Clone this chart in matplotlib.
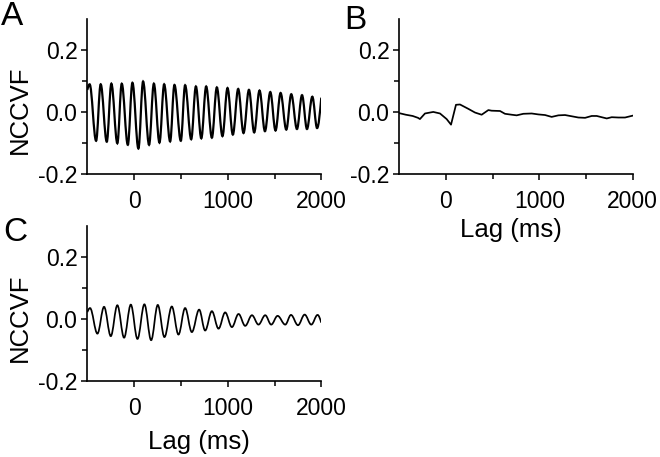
import matplotlib
matplotlib.use("Agg")
import matplotlib.pyplot as plt
from matplotlib.path import Path
from matplotlib.patches import PathPatch
from matplotlib.ticker import FixedLocator, FormatStrFormatter

plt.rcParams['font.family'] = ['Liberation Sans', 'DejaVu Sans']
plt.rcParams['axes.unicode_minus'] = False

# ---------------- data ----------------
# Panel A: oscillating NCCVF, extrema (lag in ms, value)
a_start = (-500, 0.070)
a_peak_t = [-475, -357, -243, -132, -18, 96, 211, 321, 431, 545, 660,
            770, 884, 998, 1112, 1227, 1340, 1455, 1565, 1679, 1794, 1904]
a_peak_v = [0.088, 0.088, 0.090, 0.090, 0.093, 0.097, 0.090, 0.088, 0.086, 0.085, 0.081,
            0.081, 0.078, 0.076, 0.073, 0.070, 0.068, 0.063, 0.060, 0.056, 0.053, 0.048]
a_trough_t = [-406, -292, -179, -67, 46, 160, 271, 385, 499, 610, 718,
              831, 944, 1055, 1169, 1283, 1398, 1511, 1626, 1740, 1847, 1955]
a_trough_v = [-0.094, -0.097, -0.102, -0.107, -0.119, -0.107, -0.100, -0.096, -0.094, -0.089, -0.086,
              -0.084, -0.079, -0.074, -0.069, -0.067, -0.063, -0.061, -0.058, -0.056, -0.056, -0.053]
a_end = (2000, 0.045)

# Panel B: flat NCCVF (lag in ms, value)
b_lag = [-500, -430, -357, -300, -279, -225, -136, -64, 7, 54, 107, 150, 239, 311,
         382, 454, 489, 579, 632, 704, 757, 829, 918, 989, 1061, 1132, 1204, 1275,
         1347, 1418, 1490, 1561, 1615, 1668, 1722, 1775, 1847, 1918, 2000]
b_val = [-0.005, -0.010, -0.014, -0.020, -0.024, -0.006, -0.001, -0.006, -0.024, -0.042,
         0.022, 0.023, 0.009, -0.003, -0.010, 0.005, 0.003, 0.002, -0.007, -0.010,
         -0.012, -0.007, -0.006, -0.009, -0.011, -0.017, -0.012, -0.011, -0.015,
         -0.019, -0.020, -0.014, -0.014, -0.018, -0.022, -0.018, -0.019, -0.019, -0.013]

# Panel C: oscillating NCCVF, extrema (lag in ms, value)
c_start = (-500, 0.022)
c_peak_t = [-471, -321, -179, -35, 110, 253, 403, 545, 695, 831, 973, 1116, 1259,
            1401, 1533, 1676, 1822, 1960]
c_peak_v = [0.035, 0.039, 0.044, 0.046, 0.047, 0.045, 0.040, 0.035, 0.030, 0.025,
            0.021, 0.016, 0.012, 0.012, 0.010, 0.013, 0.014, 0.013]
c_trough_t = [-392, -249, -107, 36, 182, 324, 474, 617, 759, 902, 1045, 1187, 1329,
              1465, 1615, 1751, 1893]
c_trough_v = [-0.047, -0.055, -0.060, -0.064, -0.068, -0.058, -0.050, -0.042, -0.037,
              -0.031, -0.026, -0.022, -0.018, -0.018, -0.018, -0.020, -0.018]
c_end = (2000, -0.012)

x_major = [0, 1000, 2000]
x_minor = [500, 1500]
y_major = [-0.2, 0.0, 0.2]
y_minor = [-0.1, 0.1]
x_range = (-500, 2000)
y_range = (-0.2, 0.3)


def wave_path(start, pk_t, pk_v, tr_t, tr_v, end):
    pts = sorted([(t, v, True) for t, v in zip(pk_t, pk_v)] +
                 [(t, v, True) for t, v in zip(tr_t, tr_v)])
    pts = [(start[0], start[1], False)] + pts + [(end[0], end[1], False)]
    k = 0.3642
    verts = [(pts[0][0], pts[0][1])]
    codes = [Path.MOVETO]
    for (t0, v0, e0), (t1, v1, e1) in zip(pts[:-1], pts[1:]):
        d = t1 - t0
        c1 = (t0 + k * d, v0) if e0 else (t0 + d / 3, v0 + (v1 - v0) / 2)
        c2 = (t1 - k * d, v1) if e1 else (t1 - d / 3, v1 - (v1 - v0) / 2)
        verts += [c1, c2, (t1, v1)]
        codes += [Path.CURVE4] * 3
    return Path(verts, codes)


W, H = 660, 457
fig = plt.figure(figsize=(6.6, 4.57), dpi=100)

def px_axes(l, r, t, b):
    return fig.add_axes([l / W, 1 - b / H, (r - l) / W, (b - t) / H])

axA = px_axes(87.3, 321.3, 18.5, 173.7)
axB = px_axes(399.3, 632.7, 18.5, 173.7)
axC = px_axes(87.3, 321.3, 225.5, 381.3)

for ax in (axA, axB, axC):
    ax.set_xlim(*x_range)
    ax.set_ylim(*y_range)
    for s in ('top', 'right'):
        ax.spines[s].set_visible(False)
    for s in ('left', 'bottom'):
        ax.spines[s].set_linewidth(1.2)
    ax.xaxis.set_major_locator(FixedLocator(x_major))
    ax.xaxis.set_minor_locator(FixedLocator(x_minor))
    ax.yaxis.set_major_locator(FixedLocator(y_major))
    ax.yaxis.set_minor_locator(FixedLocator(y_minor))
    ax.yaxis.set_major_formatter(FormatStrFormatter('%.1f'))
    ax.tick_params(which='major', direction='out', length=4.6, width=1.1,
                   labelsize=16.5, colors='black')
    ax.tick_params(which='minor', direction='out', length=3.4, width=1.1)
    ax.tick_params(axis='x', which='major', pad=7)
    ax.tick_params(axis='y', which='major', pad=2.5)

axA.add_patch(PathPatch(wave_path(a_start, a_peak_t, a_peak_v, a_trough_t, a_trough_v, a_end),
                        fill=False, edgecolor='black', lw=1.6))
axB.plot(b_lag, b_val, color='black', lw=1.25)
axC.add_patch(PathPatch(wave_path(c_start, c_peak_t, c_peak_v, c_trough_t, c_trough_v, c_end),
                        fill=False, edgecolor='black', lw=1.25))

for ax in (axA, axC):
    ax.set_ylabel('NCCVF', fontsize=18.5, va='center')
    ax.yaxis.set_label_coords(-0.288, 0.41)
axB.set_xlabel('Lag (ms)', fontsize=18.5, va='baseline')
axB.xaxis.set_label_coords(0.477, -0.405)
axC.set_xlabel('Lag (ms)', fontsize=18.5, va='baseline')
axC.xaxis.set_label_coords(0.478, -0.436)

fig.text(1 / W, 1 - 25 / H, 'A', fontsize=24, va='baseline', ha='left')
fig.text(344 / W, 1 - 29.3 / H, 'B', fontsize=24, va='baseline', ha='left')
fig.text(3 / W, 1 - 240.7 / H, 'C', fontsize=24, va='baseline', ha='left')

fig.savefig('out.png', dpi=100)
